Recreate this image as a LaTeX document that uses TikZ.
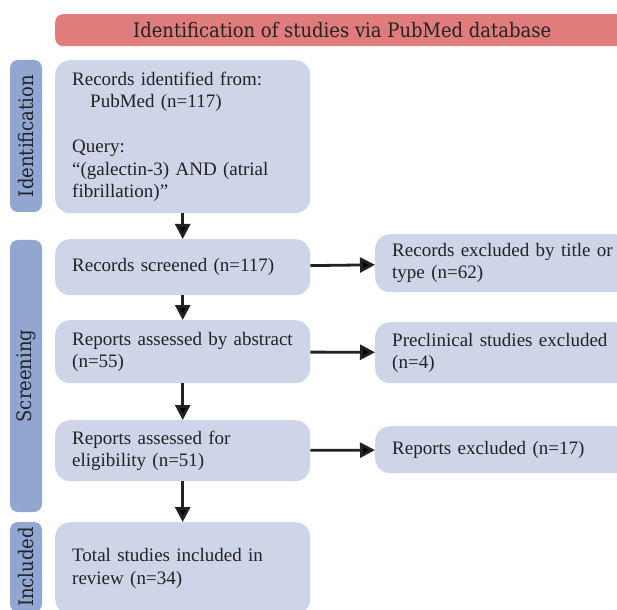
\documentclass[tikz,border=0pt]{standalone}
\usepackage{fontspec}
\setmainfont{Liberation Serif}
\newfontfamily\stagefont{DejaVu Serif Condensed}
\usetikzlibrary{arrows.meta}

\definecolor{headred}{HTML}{E07C7C}
\definecolor{stageblue}{HTML}{91A7D2}
\definecolor{boxblue}{HTML}{CED5E9}
\definecolor{inkgray}{HTML}{222222}

\begin{document}
\begin{tikzpicture}[x=1pt,y=-1pt,
  box/.style={fill=boxblue,rounded corners=15pt,anchor=north west,align=left,
    text width=221pt,inner xsep=17pt,inner ysep=0pt,text=inkgray,
    font=\fontsize{19}{22.5}\selectfont},
  stage/.style={fill=stageblue,rounded corners=8pt,rotate=90,minimum height=32pt,
    inner sep=0pt,text=inkgray,font=\stagefont\fontsize{20}{24}\selectfont},
  flow/.style={->,>={Triangle[length=15pt,width=15pt]},line width=2.8pt,draw=inkgray}]
\useasboundingbox (0,0) rectangle (617,609);
\clip (0,0) rectangle (617,609);

% header
\node[fill=headred,rounded corners=8pt,minimum width=574pt,minimum height=32pt,
  anchor=north west,text=inkgray,font=\stagefont\fontsize{20}{24}\selectfont]
  (head) at (55,14) {Identification of studies via PubMed database};

% stages
\node[stage,minimum width=152pt] (identlab)  at (26,136) {Identification};
\node[stage,minimum width=272pt] (screenlab) at (26,376) {Screening};
\node[stage,minimum width=90pt]  (incllab)   at (26,567) {Included};

% main column
\node[box,minimum height=153pt] (records) at (55,60)
  {Records identified from:\\\hspace*{18pt}PubMed (n=117)\\[22.5pt]Query:\\``(galectin-3) AND (atrial\\fibrillation)''};
\node[box,minimum height=56pt] (screened) at (55,239) {Records screened (n=117)};
\node[box,minimum height=63pt] (abstract) at (55,320) {Reports assessed by abstract\\(n=55)};
\node[box,minimum height=61pt] (eligible) at (55,420) {Reports assessed for\\eligibility (n=51)};
\node[box,minimum height=92pt] (included) at (55,522) {Total studies included in\\review (n=34)};

% exclusions
\node[box,minimum height=58pt] (extitle)   at (375,234) {Records excluded by title or\\type (n=62)};
\node[box,minimum height=61pt] (expreclin) at (375,322) {Preclinical studies excluded\\(n=4)};
\node[box,minimum height=47pt] (exreports) at (375,426) {Reports excluded (n=17)};

\path[flow]
(records)  edge (screened)
(screened) edge (abstract)
(abstract) edge (eligible)
(eligible) edge (included)
(screened) edge (extitle)
(abstract) edge (expreclin)
(eligible) edge (exreports)
;
\end{tikzpicture}
\end{document}
